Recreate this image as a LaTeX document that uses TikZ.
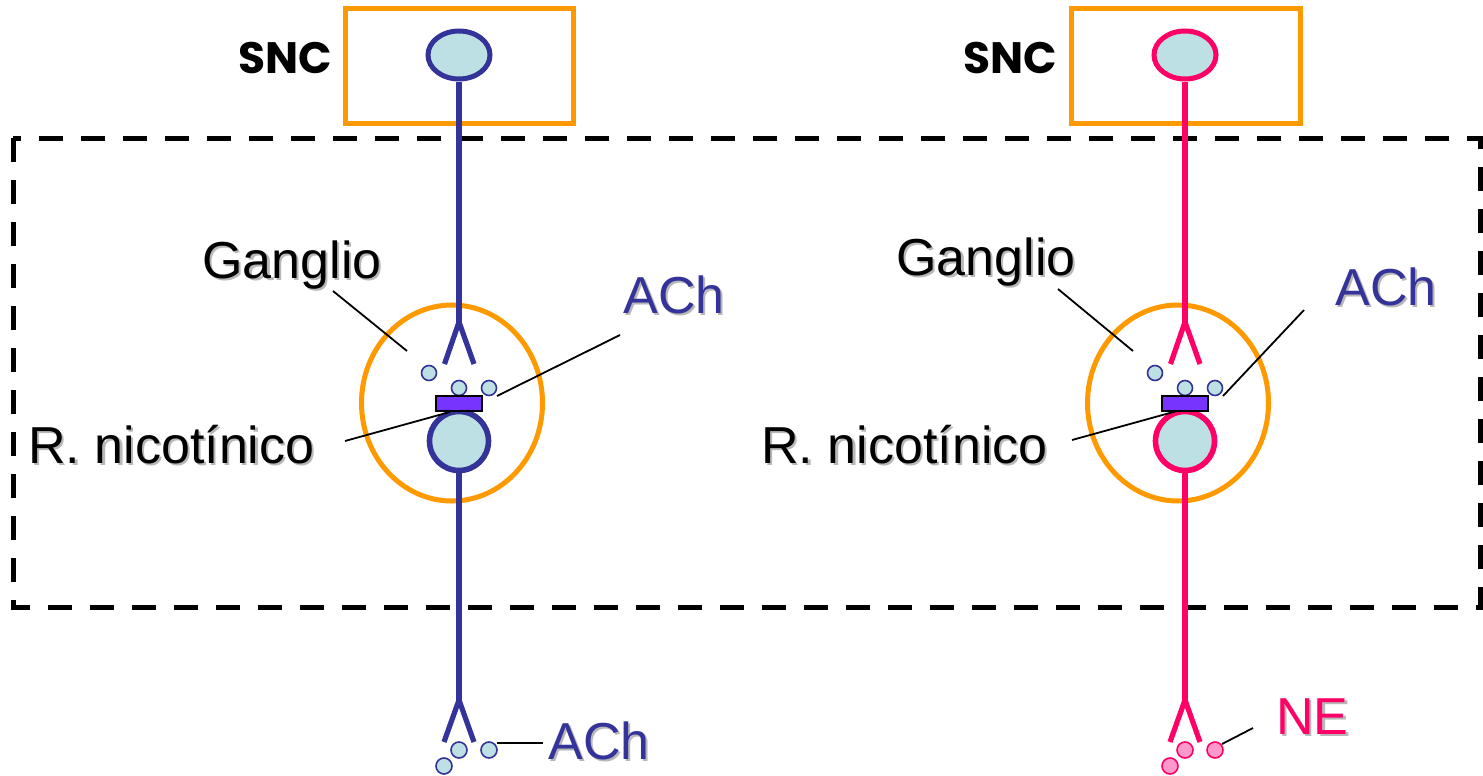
\documentclass[tikz,border=0pt]{standalone}
\usepackage{fontspec}
\setmainfont{Liberation Sans}
\newfontfamily\sncfont{Poppins}
\usetikzlibrary{shapes.geometric}

\definecolor{boxorange}{HTML}{FF9900}
\definecolor{navy}{HTML}{333399}
\definecolor{rose}{HTML}{FF0066}
\definecolor{cellblue}{HTML}{BCE0E3}
\definecolor{vesblue}{HTML}{BCE0E3}
\definecolor{vespink}{HTML}{FF99CC}
\definecolor{receptorviolet}{HTML}{7733FF}
\definecolor{textshadow}{HTML}{B8B8B8}

% text with a soft drop shadow
\newcommand\shadowed[2]{\makebox[0pt][l]{\hspace{1.1pt}\raisebox{-1.1pt}{\color{textshadow}#2}}{\color{#1}#2}}

\tikzset{
  lbl/.style={anchor=base west, inner sep=0pt, font=\fontsize{26}{30}\selectfont},
  snclbl/.style={anchor=base west, inner sep=0pt, font=\sncfont\bfseries\fontsize{22}{26}\selectfont},
  sncbox/.style={draw=boxorange, line width=2.5pt, minimum height=57.5pt, inner sep=0pt},
  ganglion/.style={ellipse, draw=boxorange, line width=2.5pt, minimum width=90.5pt, minimum height=98pt, inner sep=0pt},
  topcell/.style={ellipse, fill=cellblue, line width=2.5pt, minimum width=31pt, minimum height=24pt, inner sep=0pt},
  soma/.style={circle, fill=cellblue, line width=2.8pt, minimum size=29.5pt, inner sep=0pt},
  axon/.style={line width=2.6pt, line cap=butt},
  vesicle/.style={circle, line width=0.8pt, minimum size=7.5pt, inner sep=0pt},
  bvesicle/.style={circle, line width=0.8pt, minimum size=8pt, inner sep=0pt},
  receptor/.style={rectangle, draw=black, fill=receptorviolet, line width=1pt, minimum width=23pt, minimum height=7.5pt, inner sep=0pt},
  pointer/.style={draw=black, line width=0.9pt},
  region/.style={draw=black, line width=2.5pt, dash pattern=on 12pt off 9pt, line cap=butt}
}

\begin{document}
\begin{tikzpicture}[x=0.5pt, y=-0.5pt]
\useasboundingbox (0,0) rectangle (1483,776);

% peripheral region
\draw[region] (13,138) rectangle (1480,607);

% CNS boxes
\node[sncbox, minimum width=114pt] (snc-L) at (459,65.5) {};
\node[sncbox, minimum width=114.5pt] (snc-R) at (1185.5,65.5) {};
\node[snclbl] (snclbl-L) at (238,73) {SNC};
\node[snclbl] (snclbl-R) at (963,73) {SNC};

% ganglia
\node[ganglion] (gang-L) at (452,403) {};
\node[ganglion] (gang-R) at (1178,403) {};

% the two neuron chains
\foreach \p/\x/\c/\vf in {L/459/navy/vesblue, R/1185/rose/vespink}{
  \node[topcell, draw=\c] (top-\p) at (\x,55) {};
  \coordinate (fork-\p) at (\x,322);
  \coordinate (legl-\p) at (\x-14.5,364);
  \coordinate (legr-\p) at (\x+15,364);
  \draw[axon, \c] (top-\p.south) -- (fork-\p);
  \draw[axon, \c] (legl-\p) -- (fork-\p) -- (legr-\p);
  \node[vesicle, draw=navy, fill=vesblue] (va-\p) at (\x-30,373) {};
  \node[vesicle, draw=navy, fill=vesblue] (vb-\p) at (\x,388) {};
  \node[vesicle, draw=navy, fill=vesblue] (vc-\p) at (\x+30,388) {};
  \node[soma, draw=\c] (soma-\p) at (\x,441) {};
  \node[receptor] (rec-\p) at (\x,403.5) {};
  \coordinate (bfork-\p) at (\x,700);
  \coordinate (blegl-\p) at (\x-15,742);
  \coordinate (blegr-\p) at (\x+15,742);
  \draw[axon, \c] (soma-\p.south) -- (bfork-\p);
  \draw[axon, \c] (blegl-\p) -- (bfork-\p) -- (blegr-\p);
  \node[bvesicle, draw=\c, fill=\vf] (bva-\p) at (\x-15,766) {};
  \node[bvesicle, draw=\c, fill=\vf] (bvb-\p) at (\x,750) {};
  \node[bvesicle, draw=\c, fill=\vf] (bvc-\p) at (\x+30,750) {};
}

% labels
\node[lbl] (gl-L) at (202,278) {\shadowed{black}{Ganglio}};
\node[lbl] (gl-R) at (896,275) {\shadowed{black}{Ganglio}};
\node[lbl] (rn-L) at (28,463) {\shadowed{black}{R. nicotínico}};
\node[lbl] (rn-R) at (761,463) {\shadowed{black}{R. nicotínico}};
\node[lbl] (ach-L) at (623,313) {\shadowed{navy}{ACh}};
\node[lbl] (ach-R) at (1335,305) {\shadowed{navy}{ACh}};
\node[lbl] (ach-B) at (548,759) {\shadowed{navy}{ACh}};
\node[lbl] (ne-B) at (1276,734) {\shadowed{rose}{NE}};

% pointer lines
\coordinate (gp1-L) at (333,291); \coordinate (gp2-L) at (407,351);
\coordinate (gp1-R) at (1058,289); \coordinate (gp2-R) at (1133,351);
\coordinate (ap1-L) at (620,335); \coordinate (ap2-L) at (497,396);
\coordinate (ap1-R) at (1304,310); \coordinate (ap2-R) at (1223,396);
\coordinate (rp1-L) at (345,441); \coordinate (rp2-L) at (450,412);
\coordinate (rp1-R) at (1072,440); \coordinate (rp2-R) at (1177,411);
\coordinate (bp1) at (497,743); \coordinate (bp2) at (543,743);
\coordinate (np1) at (1222,744); \coordinate (np2) at (1253,728);
\foreach \p in {L,R}{
  \draw[pointer] (gp1-\p) -- (gp2-\p);
  \draw[pointer] (ap1-\p) -- (ap2-\p);
  \draw[pointer] (rp1-\p) -- (rp2-\p);
}
\draw[pointer] (bp1) -- (bp2);
\draw[pointer] (np1) -- (np2);
\end{tikzpicture}
\end{document}
